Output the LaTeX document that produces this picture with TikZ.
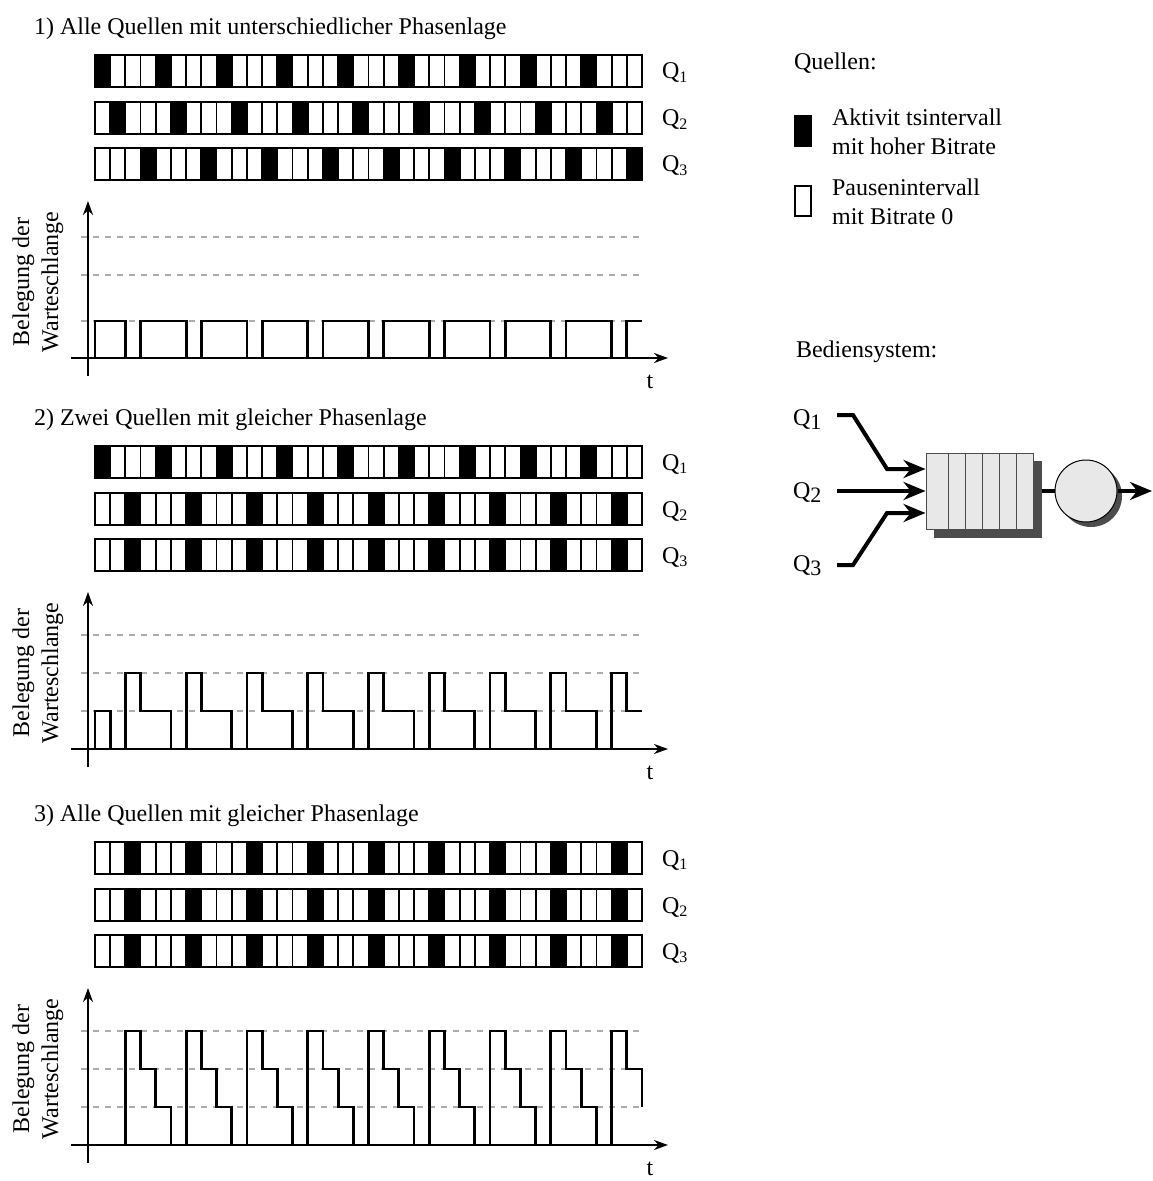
\documentclass[tikz,border=0pt]{standalone}
\usepackage{fontspec}
\setmainfont{Liberation Serif}
\usetikzlibrary{arrows.meta,calc,backgrounds}

\newcommand{\zelle}{15.194}
% Balken einer Quelle: #1 Name, #2 Oberkante, #3 Phase, #4 Index
\newcommand{\quellbalken}[4]{%
  \foreach \k in {0,...,35}{
    \pgfmathtruncatemacro{\rest}{mod(\k-#3+4,4)}
    \ifnum\rest=0 \def\farbe{black}\else\def\farbe{white}\fi
    \draw[zellbox, fill=\farbe] ({95+\k*\zelle},#2) rectangle ++(\zelle,32);
  }
  \draw[rahmen] (95,#2) rectangle (642,#2+32);
  \node[anchor=base west] (#1) at (655,#2+24) {Q\textsubscript{#4}};
}
% Achsen eines Diagramms: #1 Nummer
\newcommand{\achsen}[1]{%
  \draw[achse] (88,18) -- (88,-157);
  \draw[achse] (71,0) -- (668,0);
  \node (t#1) at (650,24) {t};
  \node[rotate=90, align=center] (yl#1) at (38,-76) {Belegung der\\Warteschlange};
}
\newcommand{\tief}[1]{\raisebox{-0.45ex}{\fontsize{11}{11}\selectfont #1}}

\tikzset{
  zellbox/.style={draw=black, line width=0.9pt},
  rahmen/.style={draw=black, line width=1.1pt},
  achse/.style={line width=1pt, -{Stealth[length=7pt,width=5pt]}},
  schwelle/.style={draw=gray!65, line width=1.2pt, dash pattern=on 3pt off 3pt},
  verlauf/.style={line width=1.4pt, line join=miter},
  zufluss/.style={line width=2pt, -{Stealth[length=11pt,width=9pt]}},
  schlange/.style={draw=gray!60!black, fill=gray!18, line width=0.5pt,
    minimum width=53.5pt, minimum height=38pt, inner sep=0pt},
  bediener/.style={circle, draw=black, fill=gray!18, line width=0.5pt,
    minimum size=31pt, inner sep=0pt},
  schatten/.style={fill=gray!60!black},
}

\begin{document}
\begin{tikzpicture}[x=0.5pt, y=-0.5pt, font=\fontsize{12}{14.5}\selectfont]
  \useasboundingbox (0,0) rectangle (1152,1181);

  % 1) unterschiedliche Phasenlage
  \begin{scope}[shift={(0,358)}]
    \node[anchor=west] (titel1) at (27,-329) {1) Alle Quellen mit unterschiedlicher Phasenlage};
    \quellbalken{q11}{-303}{0}{1}
    \quellbalken{q12}{-256}{1}{2}
    \quellbalken{q13}{-210}{3}{3}
    \foreach \h in {37,83,121} \draw[schwelle] (81,-\h) -- (640,-\h);
    \achsen{1}
    \draw[verlauf] (95,0) -- (95,-37) -- ({95+2*\zelle},-37) -- ({95+2*\zelle},0)
      \foreach \k in {0,...,7}{
        -- ({95+(4*\k+3)*\zelle},0) -- ({95+(4*\k+3)*\zelle},-37)
        -- ({95+(4*\k+6)*\zelle},-37) -- ({95+(4*\k+6)*\zelle},0)}
      -- ({95+35*\zelle},0) -- ({95+35*\zelle},-37) -- ({95+36*\zelle},-37);
  \end{scope}

  % 2) zwei Quellen gleich
  \begin{scope}[shift={(0,749)}]
    \node[anchor=west] (titel2) at (27,-329) {2) Zwei Quellen mit gleicher Phasenlage};
    \quellbalken{q21}{-303}{0}{1}
    \quellbalken{q22}{-256}{2}{2}
    \quellbalken{q23}{-210}{2}{3}
    \foreach \h in {38,76,114} \draw[schwelle] (81,-\h) -- (640,-\h);
    \achsen{2}
    \draw[verlauf] (95,0) -- (95,-38) -- ({95+\zelle},-38) -- ({95+\zelle},0)
      \foreach \k in {0,...,7}{
        -- ({95+(4*\k+2)*\zelle},0) -- ({95+(4*\k+2)*\zelle},-76)
        -- ({95+(4*\k+3)*\zelle},-76) -- ({95+(4*\k+3)*\zelle},-38)
        -- ({95+(4*\k+5)*\zelle},-38) -- ({95+(4*\k+5)*\zelle},0)}
      -- ({95+34*\zelle},0) -- ({95+34*\zelle},-76) -- ({95+35*\zelle},-76)
      -- ({95+35*\zelle},-38) -- ({95+36*\zelle},-38);
  \end{scope}

  % 3) alle Quellen gleich
  \begin{scope}[shift={(0,1145)}]
    \node[anchor=west] (titel3) at (27,-329) {3) Alle Quellen mit gleicher Phasenlage};
    \quellbalken{q31}{-303}{2}{1}
    \quellbalken{q32}{-256}{2}{2}
    \quellbalken{q33}{-210}{2}{3}
    \foreach \h in {38,76,114} \draw[schwelle] (81,-\h) -- (640,-\h);
    \achsen{3}
    \draw[verlauf] (95,0)
      \foreach \k in {0,...,7}{
        -- ({95+(4*\k+2)*\zelle},0) -- ({95+(4*\k+2)*\zelle},-114)
        -- ({95+(4*\k+3)*\zelle},-114) -- ({95+(4*\k+3)*\zelle},-76)
        -- ({95+(4*\k+4)*\zelle},-76) -- ({95+(4*\k+4)*\zelle},-38)
        -- ({95+(4*\k+5)*\zelle},-38) -- ({95+(4*\k+5)*\zelle},0)}
      -- ({95+34*\zelle},0) -- ({95+34*\zelle},-114) -- ({95+35*\zelle},-114)
      -- ({95+35*\zelle},-76) -- ({95+36*\zelle},-76) -- ({95+36*\zelle},-38);
  \end{scope}

  % Legende
  \node[anchor=west] (quellen) at (787,63) {Quellen:};
  \fill[black] (794,115) rectangle (812,147);
  \node[anchor=west, align=left] (aktiv) at (825,132) {Aktivit tsintervall\\mit hoher Bitrate};
  \draw[line width=1pt] (795,186) rectangle (811,216);
  \node[anchor=west, align=left] (pause) at (825,202) {Pausenintervall\\mit Bitrate 0};

  % Bediensystem
  \node[anchor=west] (bedien) at (789,352) {Bediensystem:};
  \node[anchor=base west] (bq1) at (786,425) {Q\tief{1}};
  \node[anchor=base west] (bq2) at (786,498) {Q\tief{2}};
  \node[anchor=base west] (bq3) at (786,571) {Q\tief{3}};
  \node[schlange] (puffer) at (979.5,491) {};
  \node[bediener] (server) at (1086,491) {};
  \foreach \x in {948,965,982,999,1016} \draw[gray!60!black, line width=0.5pt] (\x,453) -- (\x,529);
  \coordinate (z1) at (837,415);
  \coordinate (z2) at (837,491);
  \coordinate (z3) at (837,565);
  \coordinate (aus) at (1152,491);
  \draw[zufluss] (z1) -- (853,415) -- (887,469) -- ([yshift=11pt]puffer.west);
  \draw[zufluss] (z2) -- (puffer.west);
  \draw[zufluss] (z3) -- (853,565) -- (887,513) -- ([yshift=-11pt]puffer.west);
  \draw[zufluss] (server.east) -- (aus);
  \begin{pgfonlayer}{background}
    \draw[line width=2pt] (puffer.east) -- (server.west);
    \fill[schatten] ($(puffer.south west)+(8,8)$) rectangle ($(puffer.north east)+(8,8)$);
    \fill[schatten] ($(server.center)+(5,5)$) circle (31);
  \end{pgfonlayer}
\end{tikzpicture}
\end{document}
